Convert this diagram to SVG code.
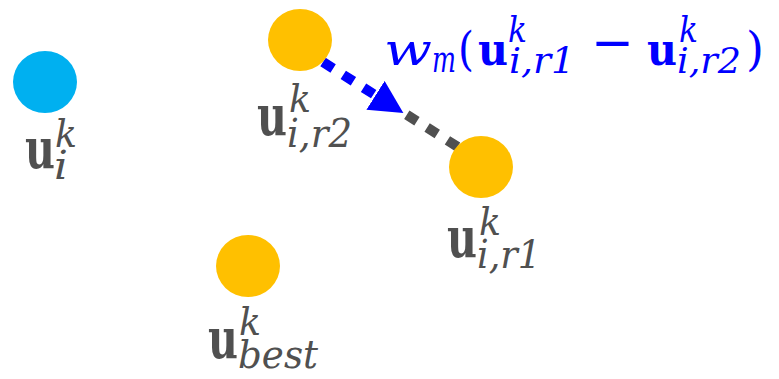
<svg xmlns="http://www.w3.org/2000/svg" width="779" height="379" viewBox="0 0 779 379">
<style>
text{font-family:"DejaVu Serif","Liberation Serif",serif}
.g{fill:#505050}
.b{fill:#0000FF}
.bu{font-weight:bold;font-size:56px}
.sc{font-style:italic;font-size:39px}
.bbu{font-weight:bold;font-size:45px}
.bsc{font-style:italic;font-size:35px}
.bw{font-style:italic;font-size:45px}
.bp{font-style:normal;font-size:46px}
.mn{font-style:normal;font-size:52px}
.orange{fill:#FFC000}
.cyan{fill:#00B0F0}
</style>
<defs>
<marker id="ah" markerUnits="userSpaceOnUse" viewBox="0 0 33 34" refX="0" refY="17" markerWidth="33" markerHeight="34" orient="auto">
<path d="M0,0 L33,17 L0,34 Z" fill="#0000FF"/>
</marker>
</defs>
<g id="connectors">
<line x1="323" y1="62" x2="375.5" y2="95.3" stroke="#0000FF" stroke-width="10" stroke-dasharray="12 12" marker-end="url(#ah)"/>
<line x1="406.8" y1="114.8" x2="458.4" y2="147.3" stroke="#505050" stroke-width="10" stroke-dasharray="12 12"/>
</g>
<g id="node-ui">
<ellipse cx="45" cy="82" rx="32" ry="31" class="cyan"/>
<text class="g"><tspan x="25" y="168" class="bu" textLength="30" lengthAdjust="spacingAndGlyphs">u</tspan><tspan x="55" y="147" class="sc" textLength="22" lengthAdjust="spacingAndGlyphs">k</tspan><tspan x="54" y="179" class="sc" textLength="14" lengthAdjust="spacingAndGlyphs">i</tspan></text>
</g>
<g id="node-ur2">
<ellipse cx="300" cy="40" rx="32" ry="31" class="orange"/>
<text class="g"><tspan x="257" y="135" class="bu" textLength="30" lengthAdjust="spacingAndGlyphs">u</tspan><tspan x="289" y="112" class="sc" textLength="22" lengthAdjust="spacingAndGlyphs">k</tspan><tspan x="287" y="147" class="sc" textLength="65" lengthAdjust="spacingAndGlyphs">i,r2</tspan></text>
</g>
<g id="node-ur1">
<ellipse cx="481" cy="167" rx="32" ry="31" class="orange"/>
<text class="g"><tspan x="447" y="257" class="bu" textLength="30" lengthAdjust="spacingAndGlyphs">u</tspan><tspan x="479" y="235" class="sc" textLength="22" lengthAdjust="spacingAndGlyphs">k</tspan><tspan x="477" y="268" class="sc" textLength="64" lengthAdjust="spacingAndGlyphs">i,r1</tspan></text>
</g>
<g id="node-ubest">
<ellipse cx="248" cy="266" rx="32" ry="31" class="orange"/>
<text class="g"><tspan x="208" y="358" class="bu" textLength="30" lengthAdjust="spacingAndGlyphs">u</tspan><tspan x="239" y="335" class="sc" textLength="22" lengthAdjust="spacingAndGlyphs">k</tspan><tspan x="238" y="368" class="sc" textLength="80" lengthAdjust="spacingAndGlyphs">best</tspan></text>
</g>
<g id="label-diff">
<text class="b"><tspan x="384" y="65" class="bw" textLength="48" lengthAdjust="spacingAndGlyphs">w</tspan><tspan x="432" y="72" class="bsc" textLength="24" lengthAdjust="spacingAndGlyphs">m</tspan><tspan x="458" y="65" class="bp" textLength="16" lengthAdjust="spacingAndGlyphs">(</tspan><tspan x="478" y="65" class="bbu" textLength="30" lengthAdjust="spacingAndGlyphs">u</tspan><tspan x="508" y="42" class="bsc" textLength="19" lengthAdjust="spacingAndGlyphs">k</tspan><tspan x="509" y="73" class="bsc" textLength="66" lengthAdjust="spacingAndGlyphs">i,r1</tspan><tspan x="591" y="60" class="mn" textLength="43" lengthAdjust="spacingAndGlyphs">−</tspan><tspan x="647" y="65" class="bbu" textLength="30" lengthAdjust="spacingAndGlyphs">u</tspan><tspan x="679" y="42" class="bsc" textLength="19" lengthAdjust="spacingAndGlyphs">k</tspan><tspan x="677" y="73" class="bsc" textLength="64" lengthAdjust="spacingAndGlyphs">i,r2</tspan><tspan x="746" y="65" class="bp" textLength="18" lengthAdjust="spacingAndGlyphs">)</tspan></text>
</g>
</svg>
